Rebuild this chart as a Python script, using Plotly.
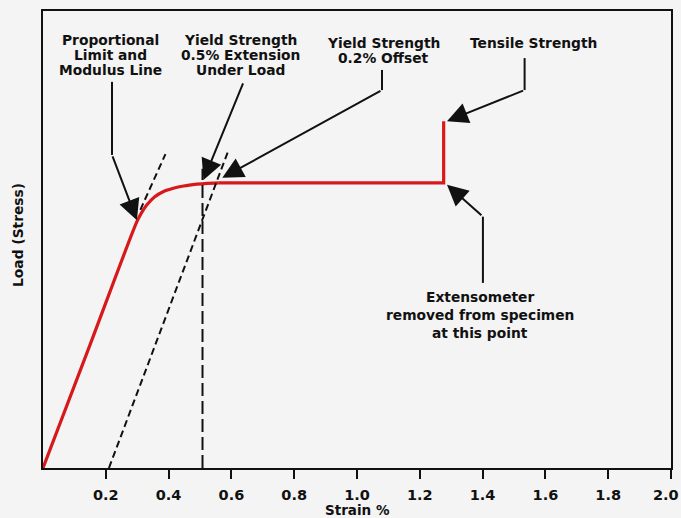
import plotly.graph_objects as go

# ---- data (strain in %, load in arbitrary units 0-100) ----
curve_strain = [0, 0.15, 0.299, 0.315, 0.331, 0.355, 0.384, 0.415, 0.448, 0.49, 0.522, 0.56]
curve_load = [0, 27.0, 53.9, 56.0, 57.6, 59.3, 60.5, 61.2, 61.7, 62.1, 62.3, 62.4]
plateau_strain = [0.56, 1.276, 1.276]
plateau_load = [62.4, 62.4, 75.9]
modulus_strain = [0.31, 0.39]
modulus_load = [56.5, 68.7]
offset_strain = [0.21, 0.59]
offset_load = [0, 69.4]
ext_strain = [0.508, 0.508]
ext_load = [0, 65.5]
tick_vals = [0.2, 0.4, 0.6, 0.8, 1.0, 1.2, 1.4, 1.6, 1.8, 2.0]
tick_text = ["0.2", "0.4", "0.6", "0.8", "1.0", "1.2", "1.4", "1.6", "1.8", "2.0"]

RED = "#d7191c"
INK = "#111111"
BG = "#f4f4f4"
FONT = "DejaVu Sans"

fig = go.Figure()
fig.add_trace(go.Scatter(x=curve_strain, y=curve_load, mode="lines",
                         line=dict(color=RED, width=3.2, shape="spline", smoothing=0.8),
                         hoverinfo="skip"))
fig.add_trace(go.Scatter(x=plateau_strain, y=plateau_load, mode="lines",
                         line=dict(color=RED, width=3.2), hoverinfo="skip"))
fig.add_trace(go.Scatter(x=modulus_strain, y=modulus_load, mode="lines",
                         line=dict(color=INK, width=2, dash="7px,4px"), hoverinfo="skip"))
fig.add_trace(go.Scatter(x=offset_strain, y=offset_load, mode="lines",
                         line=dict(color=INK, width=2, dash="7px,4px"), hoverinfo="skip"))
fig.add_trace(go.Scatter(x=ext_strain, y=ext_load, mode="lines",
                         line=dict(color=INK, width=2, dash="13px,5px"), hoverinfo="skip"))

# ---- bent arrow leaders (polyline part) ----
leaders = [
    ([0.2197, 0.2197], [84.5, 68.5]),
    ([1.0796, 1.0796], [87.1, 82.7]),
    ([1.5338, 1.5338], [89.7, 82.7]),
    ([1.401, 1.401], [40.5, 55.0]),
]
for lx, ly in leaders:
    fig.add_trace(go.Scatter(x=lx, y=ly, mode="lines",
                             line=dict(color=INK, width=2), hoverinfo="skip"))

# ---- arrow heads (final segments) ----
arrows = [
    # tip x, tip y, tail x, tail y
    (0.299, 54.2, 0.2197, 68.5),
    (0.511, 63.0, 0.639, 84.5),
    (0.571, 63.5, 1.0796, 82.7),
    (1.2866, 75.9, 1.5338, 82.7),
    (1.2866, 62.0, 1.401, 55.0),
]
annotations = []
for tx, ty, sx, sy in arrows:
    annotations.append(dict(x=tx, y=ty, ax=sx, ay=sy, xref="x", yref="y",
                            axref="x", ayref="y", text="", showarrow=True,
                            arrowhead=2, arrowsize=2.1, arrowwidth=2,
                            arrowcolor=INK, standoff=0))

labels = [
    ("Proportional", 0.2143, 93.66), ("Limit and", 0.2143, 90.38), ("Modulus Line", 0.2143, 87.10),
    ("Yield Strength", 0.6283, 93.66), ("0.5% Extension", 0.6283, 90.38), ("Under Load", 0.6283, 87.10),
    ("Yield Strength", 1.0838, 93.0), ("0.2% Offset", 1.0838, 89.7),
    ("Tensile Strength", 1.5631, 93.0),
    ("Extensometer", 1.3927, 37.5), ("removed from specimen", 1.3927, 33.5), ("at this point", 1.3927, 29.5),
]
for txt, lx, ly in labels:
    annotations.append(dict(x=lx, y=ly, xref="x", yref="y", text="<b>" + txt + "</b>",
                            showarrow=False, xanchor="center", yanchor="middle",
                            font=dict(family=FONT, size=13.8, color=INK)))

# axis titles placed as annotations (pixel offsets converted to paper units)
PW, PH = 681 - 43 - 10, 518 - 11 - 50
annotations.append(dict(x=0.5, y=-42 / PH, xref="paper", yref="paper",
                        text="<b>Strain %</b>", showarrow=False, xanchor="center", yanchor="middle",
                        font=dict(family=FONT, size=13.5, color=INK)))
annotations.append(dict(x=-25 / PW, y=0.51, xref="paper", yref="paper",
                        text="<b>Load (Stress)</b>", showarrow=False, textangle=-90,
                        xanchor="center", yanchor="middle",
                        font=dict(family=FONT, size=13.8, color=INK)))
# last tick label kept inside the page edge
annotations.append(dict(x=(681 - 43) / PW, y=-27 / PH, xref="paper", yref="paper",
                        text="<b>" + tick_text[-1] + "</b>", showarrow=False,
                        xanchor="right", yanchor="middle",
                        font=dict(family=FONT, size=14.5, color=INK)))

fig.update_layout(
    width=681, height=518,
    margin=dict(l=43, r=10, t=11, b=50, autoexpand=False),
    paper_bgcolor=BG, plot_bgcolor=BG,
    showlegend=False,
    annotations=annotations,
    font=dict(family=FONT, color=INK),
)
fig.update_xaxes(range=[0, 2.0], tickvals=tick_vals, ticktext=tick_text[:-1] + [""],
                 tickfont=dict(family=FONT, size=14.5, color=INK, weight="bold"),
                 ticks="outside", ticklen=9, tickwidth=2, tickcolor=INK,
                 ticklabelstandoff=4, ticklabeloverflow="allow",
                 showline=True, linecolor=INK, linewidth=2, mirror=True,
                 showgrid=False, zeroline=False, automargin=False)
fig.update_yaxes(range=[0, 100], showticklabels=False, ticks="",
                 showline=True, linecolor=INK, linewidth=2, mirror=True,
                 showgrid=False, zeroline=False, automargin=False)

fig.write_html(
    "out.html",
    config={"displayModeBar": False},
    post_script="document.body.style.margin='0';document.body.style.overflow='hidden';"
                "document.body.style.background='" + BG + "';",
)
